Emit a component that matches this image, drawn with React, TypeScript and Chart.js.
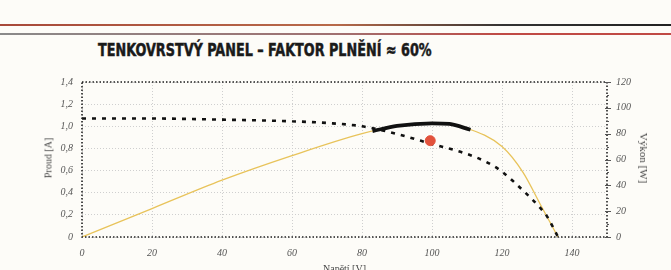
import React, { useEffect, useRef } from "react";
import { Chart, registerables } from "chart.js";

Chart.register(...registerables);

// I-V curve (current vs voltage)
const ivVoltage = [0, 20, 40, 60, 70, 80, 90, 100, 110, 116, 120, 126, 131, 133, 136];
const ivCurrent = [1.07, 1.07, 1.06, 1.045, 1.03, 1.0, 0.93, 0.84, 0.75, 0.67, 0.59, 0.42, 0.26, 0.18, 0];

// P-V curve (power vs voltage)
const pvVoltage = [0, 20, 40, 60, 80, 90, 100, 110, 120, 126, 131, 136];
const pvPower = [0, 22, 44, 63, 80, 86, 88, 84, 70, 50, 25, 0];

// Highlighted max-power region
const mppVoltage = [83, 90, 100, 105, 111];
const mppPower = [82, 86, 88, 87.5, 83];

// Operating point
const opVoltage = [99.5];
const opCurrent = [0.87];

const xTicks = [0, 20, 40, 60, 80, 100, 120, 140];
const yTicks = [0, 0.2, 0.4, 0.6, 0.8, 1.0, 1.2, 1.4];
const y1Ticks = [0, 20, 40, 60, 80, 100, 120];
const y1MinorTicks = [10, 30, 50, 70, 90, 110];

const borderPlugin = {
  id: "dottedBorder",
  afterDatasetsDraw(chart: any) {
    const { ctx, chartArea } = chart;
    ctx.save();
    ctx.strokeStyle = "#222";
    ctx.lineWidth = 1.6;
    ctx.setLineDash([1.5, 2]);
    ctx.strokeRect(chartArea.left, chartArea.top, chartArea.right - chartArea.left, chartArea.bottom - chartArea.top);
    ctx.setLineDash([]);
    ctx.lineWidth = 1;
    ctx.strokeStyle = "#555";
    const s = chart.scales.y1;
    y1Ticks.forEach((v) => {
      const y = Math.round(s.getPixelForValue(v)) + 0.5;
      ctx.beginPath();
      ctx.moveTo(chartArea.right - 2, y);
      ctx.lineTo(chartArea.right + 4, y);
      ctx.stroke();
    });
    y1MinorTicks.forEach((v) => {
      const y = Math.round(s.getPixelForValue(v)) + 0.5;
      ctx.beginPath();
      ctx.moveTo(chartArea.right, y);
      ctx.lineTo(chartArea.right + 2, y);
      ctx.stroke();
    });
    ctx.restore();
  },
};

const tickFont = { family: "'Liberation Serif', serif", size: 10, style: "italic" as const };
const gridOpts = { color: "#cfcfcf", drawTicks: false, lineWidth: 1 };

export default function App() {
  const ref = useRef<HTMLCanvasElement>(null);
  useEffect(() => {
    if (!ref.current) return;
    const chart = new Chart(ref.current, {
      type: "line",
      data: {
        datasets: [
          {
            label: "mpp",
            data: mppVoltage.map((v, i) => ({ x: v, y: mppPower[i] })),
            yAxisID: "y1",
            borderColor: "#111",
            borderWidth: 3.8,
            pointRadius: 0,
            cubicInterpolationMode: "monotone",
            order: 1,
          },
          {
            label: "I-V",
            data: ivVoltage.map((v, i) => ({ x: v, y: ivCurrent[i] })),
            yAxisID: "y",
            borderColor: "#111",
            borderWidth: 2.6,
            borderDash: [4, 6],
            pointRadius: 0,
            cubicInterpolationMode: "monotone",
            order: 2,
          },
          {
            label: "P-V",
            data: pvVoltage.map((v, i) => ({ x: v, y: pvPower[i] })),
            yAxisID: "y1",
            borderColor: "#e8c35a",
            borderWidth: 1.3,
            pointRadius: 0,
            cubicInterpolationMode: "monotone",
            order: 3,
          },
          {
            label: "op",
            data: opVoltage.map((v, i) => ({ x: v, y: opCurrent[i] })),
            yAxisID: "y",
            showLine: false,
            pointRadius: 5,
            pointBackgroundColor: "#e2523c",
            pointBorderColor: "#e2523c",
            order: 0,
          },
        ],
      },
      options: {
        animation: false,
        responsive: false,
        layout: { padding: { top: 82, left: 0, right: 0, bottom: 0 } },
        plugins: { legend: { display: false }, tooltip: { enabled: false }, title: { display: false } },
        scales: {
          x: {
            type: "linear",
            min: 0,
            max: 150,
            afterBuildTicks: (s: any) => {
              s.ticks = xTicks.map((v) => ({ value: v }));
            },
            afterFit: (s: any) => {
              s.height = 33;
            },
            grid: gridOpts,
            border: { display: false, dash: [1, 2] },
            ticks: { font: tickFont, color: "#555", padding: 10, maxRotation: 0 },
          },
          y: {
            type: "linear",
            position: "left",
            min: 0,
            max: 1.4,
            afterBuildTicks: (s: any) => {
              s.ticks = yTicks.map((v) => ({ value: v }));
            },
            afterFit: (s: any) => {
              s.width = 82;
            },
            grid: gridOpts,
            border: { display: false, dash: [1, 2] },
            ticks: {
              font: tickFont,
              color: "#555",
              padding: 9,
              callback: (v: any) => (v === 0 ? "0" : Number(v).toFixed(1).replace(".", ",")),
            },
          },
          y1: {
            type: "linear",
            position: "right",
            min: 0,
            max: 120,
            afterBuildTicks: (s: any) => {
              s.ticks = y1Ticks.map((v) => ({ value: v }));
            },
            afterFit: (s: any) => {
              s.width = 64;
            },
            grid: { display: false, drawTicks: false },
            border: { display: false },
            ticks: { font: tickFont, color: "#555", padding: 9 },
          },
        },
      },
      plugins: [borderPlugin],
    } as any);
    return () => chart.destroy();
  }, []);

  const axisTitle = {
    position: "absolute" as const,
    fontFamily: "'Liberation Serif', serif",
    color: "#444",
    whiteSpace: "nowrap" as const,
  };

  return (
    <div
      style={{
        position: "fixed",
        left: 0,
        top: 0,
        width: 671,
        height: 270,
        overflow: "hidden",
        background: "#fdfcf8",
      }}
    >
      <div
        style={{
          position: "absolute",
          left: 0,
          top: 24,
          width: 671,
          height: 2,
          background: "linear-gradient(90deg, #a8493a 0%, #b86a4a 50%, #333 75%, #222 100%)",
        }}
      />
      <div
        style={{
          position: "absolute",
          left: 0,
          top: 33,
          width: 671,
          height: 1.5,
          background: "linear-gradient(90deg, #8a8a8a 0%, #a07070 50%, #c04a45 75%, #c04a45 100%)",
        }}
      />
      <div
        style={{
          position: "absolute",
          left: 98,
          top: 39,
          fontFamily: "'DejaVu Sans Condensed', 'DejaVu Sans', sans-serif",
          fontWeight: "bold",
          fontSize: 18,
          color: "#1a1a1a",
          whiteSpace: "nowrap",
          transform: "scaleX(0.79)",
          transformOrigin: "left center",
          WebkitTextStroke: "0.5px #1a1a1a",
        }}
      >
        TENKOVRSTVÝ PANEL – FAKTOR PLNĚNÍ ≈ 60%
      </div>
      <canvas ref={ref} width={671} height={270} style={{ position: "absolute", left: 0, top: 0 }} />
      <div
        style={{
          ...axisTitle,
          left: 48,
          top: 158,
          fontSize: 10,
          transform: "translate(-50%, -50%) rotate(-90deg)",
        }}
      >
        Proud [A]
      </div>
      <div
        style={{
          ...axisTitle,
          left: 644,
          top: 158,
          fontSize: 11,
          transform: "translate(-50%, -50%) rotate(90deg)",
        }}
      >
        Výkon [W]
      </div>
      <div
        style={{
          ...axisTitle,
          left: 0,
          width: 689,
          top: 263,
          textAlign: "center",
          fontSize: 10,
        }}
      >
        Napětí [V]
      </div>
    </div>
  );
}
